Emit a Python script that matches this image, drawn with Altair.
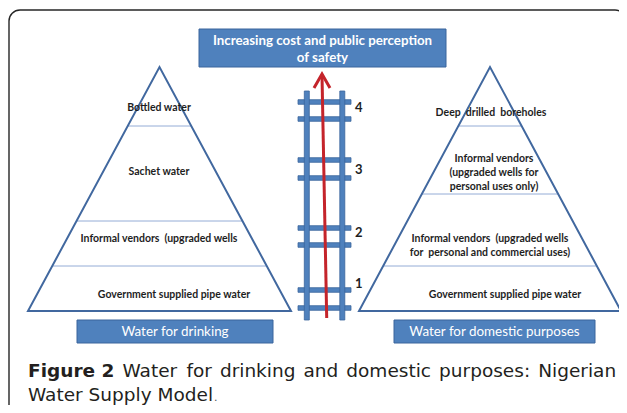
import altair as alt
import pandas as pd

# ---------------- content (text / categories) ----------------
NB = "\u00a0"
title_lines = "Increasing cost and public perception\nof safety"
drinking_tiers = ["Government supplied pipe water",
                  "Informal vendors " + NB + "(upgraded wells",
                  "Sachet water",
                  "Bottled water"]
domestic_tiers = ["Government supplied pipe water",
                  "Informal vendors " + NB + "(upgraded wells\nfor " + NB + "personal and commercial uses)",
                  "Informal vendors\n(upgraded wells for\npersonal uses only)",
                  "Deep " + NB + "drilled " + NB + "boreholes"]
levels = ["1", "2", "3", "4"]
panel_titles = ["Water for drinking", "Water for domestic purposes"]
caption_bold = "Figure 2"
caption_line1 = ["Water", "for", "drinking", "and", "domestic", "purposes:", "Nigerian"]
caption_line2 = "Water Supply Model"

# ---------------- layout (pixel frame of the figure) ----------------
W, H = 611, 397
xs = alt.Scale(domain=[8, 8 + W], nice=False, zero=False)
ys = alt.Scale(domain=[8, 8 + H], nice=False, zero=False, reverse=True)


def ex(f):
    return alt.X(f"{f}:Q", scale=xs, axis=None)


def ey(f):
    return alt.Y(f"{f}:Q", scale=ys, axis=None)


BLUE = "#4F81BD"
BLUE_EDGE = "#3A659C"
TRI = "#41689F"
INNER = "#94ACD6"
RED = "#C4242B"
DARK = "#1E1E1E"

# pyramids: apex x, apex y, base y, half base, tier boundaries, label positions
pyr = [
    dict(cx=159.5, ay=67, by=311, hb=131.5, bounds=[266, 221, 126],
         lx=[174, 159, 159, 159], ly=[295, 239, 172, 108], labels=drinking_tiers),
    dict(cx=490, ay=67, by=311, hb=131, bounds=[266, 194, 126],
         lx=[505, 490, 494, 491], ly=[295, 239, 159, 113], labels=domestic_tiers),
]

layers = []

# outer rounded frame
frame = pd.DataFrame({"x0": [9], "x1": [626], "y0": [10], "y1": [440]})
layers.append(alt.Chart(frame).mark_rect(cornerRadius=11, fillOpacity=0, stroke="#262626",
                                         strokeWidth=1.4).encode(
    x=ex("x0"), x2="x1:Q", y=ey("y0"), y2="y1:Q"))

for p in pyr:
    rows = []
    for yb in p["bounds"]:
        half = (yb - p["ay"]) / (p["by"] - p["ay"]) * p["hb"]
        rows.append({"x0": p["cx"] - half, "x1": p["cx"] + half, "y": yb})
    layers.append(alt.Chart(pd.DataFrame(rows)).mark_rule(color=INNER, strokeWidth=1).encode(
        x=ex("x0"), x2="x1:Q", y=ey("y")))
    tri = pd.DataFrame({
        "i": [0, 1, 2, 3, 4],
        "x": [p["cx"], p["cx"] + p["hb"], p["cx"], p["cx"] - p["hb"], p["cx"]],
        "y": [p["by"], p["by"], p["ay"], p["by"], p["by"]],
    })
    layers.append(alt.Chart(tri).mark_line(color=TRI, strokeWidth=2, strokeJoin="miter").encode(
        x=ex("x"), y=ey("y"), order="i:Q"))
    lab = pd.DataFrame({"t": p["labels"], "x": p["lx"], "y": p["ly"]})
    layers.append(alt.Chart(lab).mark_text(font="Lato", fontSize=10.5, fontWeight="bold",
                                           color=DARK, lineBreak="\n", lineHeight=14,
                                           align="center", baseline="middle").encode(
        x=ex("x"), y=ey("y"), text="t:N"))

# ladder rungs
rung_y = [102, 119, 160, 178, 228, 245, 290, 308]
rungs = pd.DataFrame({"x0": 298, "x1": 351, "y0": [v - 2.3 for v in rung_y],
                      "y1": [v + 2.3 for v in rung_y]})
layers.append(alt.Chart(rungs).mark_rect(fill=BLUE, stroke=BLUE_EDGE, strokeWidth=0.8).encode(
    x=ex("x0"), x2="x1:Q", y=ey("y0"), y2="y1:Q"))
rails = pd.DataFrame({"x0": [304.3, 339.8], "x1": [309.3, 344.8], "y0": 91, "y1": 320})
layers.append(alt.Chart(rails).mark_rect(fill=BLUE, stroke=BLUE_EDGE, strokeWidth=0.8).encode(
    x=ex("x0"), x2="x1:Q", y=ey("y0"), y2="y1:Q"))

# level numbers
lv = pd.DataFrame({"t": levels, "x": 355, "y": [284, 233, 170, 108]})
layers.append(alt.Chart(lv).mark_text(font="Lato", fontSize=13, fontWeight="bold", color=DARK,
                                      align="left", baseline="middle").encode(
    x=ex("x"), y=ey("y"), text="t:N"))

# red arrow
shaft = pd.DataFrame({"x0": [326.7], "y0": [318], "x1": [322], "y1": [75]})
layers.append(alt.Chart(shaft).mark_rule(color=RED, strokeWidth=3).encode(
    x=ex("x0"), y=ey("y0"), x2="x1:Q", y2="y1:Q"))
head = pd.DataFrame({"i": [0, 1, 2], "x": [314, 322, 330], "y": [88, 74, 88]})
layers.append(alt.Chart(head).mark_line(color=RED, strokeWidth=3, strokeJoin="miter").encode(
    x=ex("x"), y=ey("y"), order="i:Q"))

# title box
tb = pd.DataFrame({"x0": [199], "x1": [446], "y0": [29], "y1": [67]})
layers.append(alt.Chart(tb).mark_rect(fill=BLUE, stroke=BLUE_EDGE, strokeWidth=1).encode(
    x=ex("x0"), x2="x1:Q", y=ey("y0"), y2="y1:Q"))
tt = pd.DataFrame({"t": [title_lines], "x": [322.5], "y": [41]})
layers.append(alt.Chart(tt).mark_text(font="Lato", fontSize=13.3, fontWeight="bold", color="white",
                                      lineBreak="\n", lineHeight=16.5, align="center",
                                      baseline="middle").encode(
    x=ex("x"), y=ey("y"), text="t:N"))

# panel title boxes
pb = pd.DataFrame({"t": panel_titles, "x0": [77, 394], "x1": [273, 595], "y0": 320, "y1": 343})
pb["xc"] = (pb.x0 + pb.x1) / 2
pb["yc"] = 332
layers.append(alt.Chart(pb).mark_rect(fill=BLUE, stroke=BLUE_EDGE, strokeWidth=1).encode(
    x=ex("x0"), x2="x1:Q", y=ey("y0"), y2="y1:Q"))
layers.append(alt.Chart(pb).mark_text(font="Lato", fontSize=13.4, color="white", align="center",
                                      baseline="middle").encode(
    x=ex("xc"), y=ey("yc"), text="t:N"))

# caption
CAP = 18.5
cap_b = pd.DataFrame({"t": [caption_bold], "x": [28], "y": [377]})
layers.append(alt.Chart(cap_b).mark_text(font="DejaVu Sans", fontSize=CAP, fontWeight="bold",
                                         color="#231F20", align="left",
                                         baseline="alphabetic").encode(
    x=ex("x"), y=ey("y"), text="t:N"))
cap_words = pd.DataFrame({
    "t": caption_line1 + [caption_line2],
    "x": [122.5, 186.4, 219.9, 303.5, 346.3, 439.1, 538.2, 28],
    "y": [377] * 7 + [401],
})
layers.append(alt.Chart(cap_words).mark_text(font="DejaVu Sans", fontSize=CAP, color="#231F20",
                                             align="left", baseline="alphabetic").encode(
    x=ex("x"), y=ey("y"), text="t:N"))
dot = pd.DataFrame({"t": ["."], "x": [214], "y": [401]})
layers.append(alt.Chart(dot).mark_text(font="DejaVu Sans", fontSize=11, color="#555555",
                                       align="left", baseline="alphabetic").encode(
    x=ex("x"), y=ey("y"), text="t:N"))

chart = alt.layer(*layers).properties(
    width=W, height=H, padding=0,
    autosize=alt.AutoSizeParams(type="none"),
    background="white",
).configure_view(stroke=None)

chart.save("out.html", embed_options={"renderer": "svg", "actions": False})
